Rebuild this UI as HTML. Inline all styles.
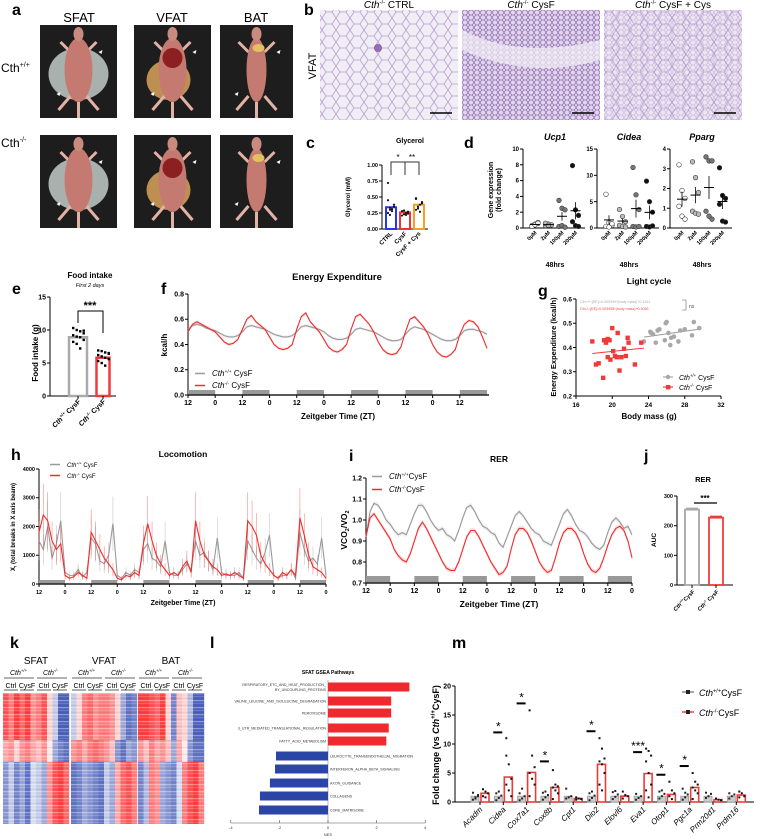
<!DOCTYPE html>
<html><head><meta charset="utf-8">
<style>
body{margin:0;background:#fff}
svg{display:block;font-family:"Liberation Sans",Arial,sans-serif}
.pl{font-size:16px;font-weight:bold}
.b{font-weight:bold}
</style></head>
<body>
<svg id="fig" xmlns="http://www.w3.org/2000/svg" width="758" height="839" viewBox="0 0 758 839">
<defs>
<pattern id="cells" width="14" height="12" patternUnits="userSpaceOnUse"><path d="M0 6 L4 0 L10 0 L14 6 L10 12 L4 12 Z" fill="none" stroke="#b6a0d0" stroke-width="0.8"/></pattern>
<pattern id="cellsDense" width="6" height="5" patternUnits="userSpaceOnUse"><path d="M0 2.5 L1.7 0 L4.3 0 L6 2.5 L4.3 5 L1.7 5 Z" fill="none" stroke="#8e6cb2" stroke-width="0.7"/></pattern>
<pattern id="stripes" width="6" height="7" patternUnits="userSpaceOnUse"><rect x="0" y="0" width="6" height="1.2" fill="#fff" opacity="0.35"/><rect x="0" y="3" width="6" height="0.8" fill="#fff" opacity="0.2"/><rect x="0" y="5" width="6" height="1" fill="#000" opacity="0.06"/></pattern>
</defs>

<text class="pl" x="12" y="15">a</text>
<text class="pl" x="304" y="15">b</text>
<text class="pl" x="306" y="148">c</text>
<text class="pl" x="464" y="148">d</text>
<text class="pl" x="12" y="294">e</text>
<text class="pl" x="161" y="294">f</text>
<text class="pl" x="538" y="296">g</text>
<text class="pl" x="11" y="460">h</text>
<text class="pl" x="349" y="461">i</text>
<text class="pl" x="644" y="461">j</text>
<text class="pl" x="10" y="648">k</text>
<text class="pl" x="210" y="648">l</text>
<text class="pl" x="452" y="648">m</text>

<text x="79" y="22" font-size="13" text-anchor="middle">SFAT</text>
<text x="172" y="22" font-size="13" text-anchor="middle">VFAT</text>
<text x="256" y="22" font-size="13" text-anchor="middle">BAT</text>
<text x="1" y="72" font-size="12">Cth<tspan font-size="7" dy="-5">+/+</tspan></text>
<text x="1" y="147" font-size="12">Cth<tspan font-size="7" dy="-5">-/-</tspan></text>
<g id="photos"></g>

<text x="316" y="66" font-size="11" text-anchor="middle" transform="rotate(-90 316 66)">VFAT</text>
<text x="389" y="8" font-size="10" text-anchor="middle"><tspan font-style="italic">Cth</tspan><tspan font-size="6" dy="-4">-/-</tspan><tspan dy="4"> CTRL</tspan></text>
<text x="531" y="8" font-size="10" text-anchor="middle"><tspan font-style="italic">Cth</tspan><tspan font-size="6" dy="-4">-/-</tspan><tspan dy="4"> CysF</tspan></text>
<text x="673" y="8" font-size="10" text-anchor="middle"><tspan font-style="italic">Cth</tspan><tspan font-size="6" dy="-4">-/-</tspan><tspan dy="4"> CysF + Cys</tspan></text>
<g><rect x="320" y="10" width="138" height="110" fill="#f1edf5"/><rect x="320" y="10" width="138" height="110" fill="url(#cells)"/><circle cx="378" cy="48" r="4" fill="#7a4fa0" opacity="0.8"/><line x1="430" y1="113" x2="452" y2="113" stroke="#000" stroke-width="1.5"/></g>
<g><rect x="462" y="10" width="138" height="110" fill="#e2d6ec"/><rect x="462" y="10" width="138" height="110" fill="url(#cellsDense)"/><path d="M462 30 Q520 60 600 40 L600 60 Q530 80 462 50Z" fill="#f4f0f7" opacity="0.7"/><line x1="572" y1="113" x2="594" y2="113" stroke="#000" stroke-width="1.5"/></g>
<g><rect x="604" y="10" width="138" height="110" fill="#ece5f2"/><rect x="604" y="10" width="138" height="110" fill="url(#cells)" opacity="0.9"/><rect x="604" y="10" width="138" height="110" fill="url(#cellsDense)" opacity="0.35"/><line x1="714" y1="113" x2="736" y2="113" stroke="#000" stroke-width="1.5"/></g>

<text x="410" y="143" font-size="7" class="b" text-anchor="middle">Glycerol</text>
<text x="350" y="197" font-size="6" class="b" text-anchor="middle" transform="rotate(-90 350 197)">Glycerol (mM)</text>
<text x="493" y="190" font-size="7" class="b" text-anchor="middle" transform="rotate(-90 493 190)">Gene expression</text>
<text x="501" y="190" font-size="7" class="b" text-anchor="middle" transform="rotate(-90 501 190)">(fold change)</text>
<text x="90" y="278" font-size="8" class="b" text-anchor="middle">Food intake</text>
<text x="90" y="287" font-size="5.5" font-style="italic" text-anchor="middle">First 2 days</text>
<text x="38" y="353" font-size="8" class="b" text-anchor="middle" transform="rotate(-90 38 353)">Food intake (g)</text>
<text x="337" y="280" font-size="9.5" class="b" text-anchor="middle">Energy Expenditure</text>
<text x="167" y="345" font-size="8" class="b" text-anchor="middle" transform="rotate(-90 167 345)">kcal/h</text>
<text x="338" y="419" font-size="8" class="b" text-anchor="middle">Zeitgeber Time  (ZT)</text>
<text x="649" y="284" font-size="8.5" class="b" text-anchor="middle">Light cycle</text>
<text x="556" y="347" font-size="7.5" class="b" text-anchor="middle" transform="rotate(-90 556 347)">Energy Expenditure (kcal/h)</text>
<text x="649" y="419" font-size="8" class="b" text-anchor="middle">Body mass (g)</text>
<text x="580" y="303" font-size="3.6" fill="#aaa">Cth+/+;{EE}=0.005399*(body mass)+0.3161</text>
<text x="580" y="310" font-size="3.6" fill="#f04848">Cth-/-;{EE}=0.003958*(body mass)+0.3046</text>
<path d="M682 300 H686 V310 H682" fill="none" stroke="#666" stroke-width="0.6"/>
<text x="689" y="308" font-size="5" fill="#555">ns</text>
<text x="183" y="457" font-size="8.5" class="b" text-anchor="middle">Locomotion</text>
<text x="15" y="527" font-size="6" class="b" text-anchor="middle" transform="rotate(-90 15 527)">X<tspan font-size="4" dy="1.5">t</tspan><tspan dy="-1.5"> (total breaks in X axis beam)</tspan></text>
<text x="183" y="605" font-size="7" class="b" text-anchor="middle">Zeitgeber Time (ZT)</text>
<text x="499" y="462" font-size="8.5" class="b" text-anchor="middle">RER</text>
<text x="347" y="530" font-size="8.5" class="b" text-anchor="middle" transform="rotate(-90 347 530)">VCO<tspan font-size="5.5" dy="2">2</tspan><tspan dy="-2">/VO</tspan><tspan font-size="5.5" dy="2">2</tspan></text>
<text x="499" y="607" font-size="8.5" class="b" text-anchor="middle">Zeitgeber  Time  (ZT)</text>
<text x="703" y="482" font-size="7.5" class="b" text-anchor="middle">RER</text>
<text x="656" y="540" font-size="6.5" class="b" text-anchor="middle" transform="rotate(-90 656 540)">AUC</text>
<text x="328" y="674" font-size="5" class="b" text-anchor="middle">SFAT GSEA Pathways</text>
<text x="328" y="836" font-size="4" fill="#333" text-anchor="middle">NES</text>
<text x="439" y="745" font-size="9" class="b" text-anchor="middle" transform="rotate(-90 439 745)">Fold change (vs <tspan font-style="italic">Cth</tspan><tspan font-size="6" dy="-4">+/+</tspan><tspan dy="4">CysF)</tspan></text>

<g id="charts"></g>
</svg>

<script>
// ---------------- DATA ----------------
const cCats = ['CTRL', 'CysF', 'CysF + Cys'];
const cMeans = [0.34, 0.26, 0.38];
const cPoints = [[0.25,0.30,0.28,0.35,0.45,0.33,0.31,0.38,0.72,0.22],[0.21,0.23,0.25,0.27,0.28,0.29,0.22,0.24],[0.30,0.32,0.38,0.42,0.47,0.35,0.27,0.40,0.48]];
const cTicks = [0, 0.25, 0.5, 0.75, 1.0];
const dDoses = ['0μM', '2μM', '100μM', '200μM'];
const dUcp1 = [[0.3,0.5,0.7,0.2,0.4,0.6],[0.3,0.5,0.4,0.6,0.35],[3.5,2.5,2.3,0.2,0.3,0.1],[7.9,2.3,1.6,0.8,0.3,0.2]];
const dCidea = [[6.4,1.0,0.5,0.3,0.2,0.8],[3.5,2.2,1.2,0.5,0.3,0.2],[11.5,6.3,3.5,0.3,0.2,0.3],[8.9,5.0,3.0,0.3,0.2,0.4]];
const dPparg = [[3.2,1.9,1.5,1.1,0.6,0.45],[3.35,2.55,1.8,0.85,0.75,0.7],[3.6,3.4,3.4,0.85,0.6,0.45],[3.05,1.65,1.5,1.2,0.35,0.3]];
const dUcp1Ticks = [0,2,4,6,8,10];
const dCideaTicks = [0,5,10,15];
const dPpargTicks = [0,1,2,3,4];
const eCats = ['Cth+/+ CysF', 'Cth-/- CysF'];
const eMeans = [8.9, 5.8];
const ePoints = [[10.3,10.0,9.8,9.5,9.2,9.0,8.9,8.5,8.2,7.9,7.2,9.9],[6.9,6.8,6.6,6.4,6.2,6.0,5.8,5.6,5.3,5.0,4.6,6.5]];
const eTicks = [0,5,10,15];
const fRed = [.50,.56,.58,.56,.54,.52,.50,.46,.42,.40,.41,.44,.52,.60,.63,.58,.55,.52,.46,.40,.37,.36,.37,.40,.52,.62,.65,.58,.54,.50,.44,.38,.35,.34,.36,.40,.52,.62,.64,.60,.56,.50,.42,.36,.33,.32,.33,.38,.50,.60,.62,.58,.54,.48,.40,.34,.31,.30,.32,.36,.48,.56,.59,.58,.54,.46,.37];
const fGray = [.52,.55,.56,.55,.53,.52,.51,.49,.47,.46,.46,.47,.50,.54,.55,.54,.53,.52,.50,.48,.47,.46,.46,.47,.50,.54,.55,.54,.53,.52,.50,.47,.45,.44,.44,.45,.48,.52,.53,.52,.51,.50,.48,.46,.44,.43,.43,.44,.48,.52,.54,.53,.52,.50,.48,.46,.44,.43,.43,.44,.47,.51,.52,.52,.51,.50,.48];
const fTicks = [0, 0.2, 0.4, 0.6, 0.8];
const fZT = ['12','0','12','0','12','0','12','0','12','0','12'];
const gWtMass = [23.5,24.2,24.5,24.8,25.0,25.2,25.8,25.9,26.0,26.2,26.4,26.5,26.8,27.3,27.5,28.0,28.8,29.0,29.6,24.3];
const gWtEE = [.425,.465,.455,.42,.47,.475,.43,.50,.505,.46,.41,.44,.445,.425,.47,.475,.45,.505,.48,.46];
const gKoMass = [17.8,18.2,18.5,19.0,19.1,19.3,19.5,19.7,19.5,19.8,20.0,20.1,20.3,20.5,20.8,20.6,21.0,21.3,21.5,21.7,21.8,22.5,23.2];
const gKoEE = [.425,.33,.335,.275,.43,.42,.435,.43,.36,.35,.48,.385,.365,.36,.305,.46,.36,.395,.365,.44,.42,.33,.42];
const gWtFit = [0.005399, 0.3161];
const gKoFit = [0.003958, 0.3046];
const gXTicks = [16,20,24,28,32];
const gYTicks = [0.2,0.3,0.4,0.5,0.6];
const hRed = [1800,2400,2200,1500,1200,1400,300,200,250,400,300,200,1800,1500,1200,900,700,500,200,150,300,250,400,300,1400,2100,1500,1000,700,500,300,400,300,600,800,400,2200,1500,1000,800,600,500,300,350,300,400,300,200,2200,2000,1700,1000,700,500,300,200,400,300,500,300,2300,1700,1000,600,500,400,200];
const hGray = [1500,1200,2000,900,1400,2200,400,300,300,500,250,400,1600,1400,800,700,1000,2100,300,200,400,300,500,400,1200,1400,900,800,600,1500,400,300,300,500,700,500,1500,1000,1100,800,500,1600,400,300,300,300,400,200,1500,1200,900,700,1100,1700,300,200,300,300,500,200,1800,1200,800,900,700,1600,300];
const hTicks = [0,1000,2000,3000,4000];
const hZT = ['12','0','12','0','12','0','12','0','12','0','12','0'];
const iRed = [.92,1.01,1.03,1.00,.97,.94,.91,.86,.83,.81,.80,.84,.90,.96,.99,.96,.92,.88,.84,.80,.77,.76,.76,.80,.86,.92,.95,.95,.92,.88,.84,.80,.77,.74,.75,.78,.86,.93,.96,.96,.94,.90,.85,.80,.77,.75,.76,.82,.89,.94,.96,.96,.94,.90,.84,.79,.76,.75,.77,.82,.88,.93,.96,.97,.95,.90,.82];
const iGray = [.92,1.04,1.08,1.07,1.04,1.00,.98,.95,.93,.94,.93,.98,1.03,1.07,1.07,1.04,1.00,.97,.95,.96,.93,.92,.90,.95,1.01,1.06,1.07,1.04,1.00,.97,.96,.94,.93,.89,.87,.92,.97,1.02,1.04,1.02,.99,.96,.94,.93,.90,.89,.88,.93,.98,1.03,1.05,1.02,.98,.95,.94,.92,.89,.87,.86,.88,.94,.99,1.01,.99,.96,.97,.93];
const iTicks = [0.7,0.8,0.9,1.0,1.1,1.2];
const iZT = ['12','0','12','0','12','0','12','0','12','0','12','0'];
const jCats = ['Cth+/+CysF', 'Cth-/- CysF'];
const jMeans = [254, 227];
const jTicks = [0,100,200,300];
const kTissues = ['SFAT','VFAT','BAT'];
const kTop = [[.8,.6,.9,.7,.9,.5,.6,.8,.2,-.3,-.9,-.9],[-.3,.2,.6,.7,.5,.6,.6,.5,.2,-.5,-.8,-.7],[.9,.9,.8,.7,.9,.2,-.7,.3,.2,-.4,-.9,-.9]];
const kMid = [[.4,.5,.2,.5,.6,.4,.3,.5,.1,-.5,-.7,-.8],[.5,.6,.4,.6,.7,.6,.5,.3,-.6,-.8,-.5,-.6],[.5,.3,.6,.4,.5,.3,-.5,.4,.1,-.6,-.8,-.8]];
const kBot = [[-.6,-.3,-.7,-.5,-.8,-.2,-.3,-.5,.5,.8,.9,.7],[-.8,-.7,-.5,-.6,-.7,-.8,-.3,-.5,.4,.7,.8,.6],[-.7,-.4,.6,.5,-.5,-.6,-.7,-.2,.6,.8,.9,.6]];
const lPathways = ['RESPIRATORY_ETC_AND_HEAT_PRODUCTION_|BY_UNCOUPLING_PROTEINS','VALINE_LEUCINE_AND_ISOLEUCINE_DEGRADATION','PEROXISOME','3_UTR_MEDIATED_TRANSLATIONAL_REGULATION','FATTY_ACID_METABOLISM','LEUKOCYTE_TRANSENDOTHELIAL_MIGRATION','INTERFERON_ALPHA_BETA_SIGNALING','AXON_GUIDANCE','COLLAGENS','CORE_MATRISOME'];
const lNES = [3.35,2.6,2.6,2.5,2.4,-2.14,-2.18,-2.39,-2.8,-2.84];
const lTicks = [-4,-2,0,2,4];
const mGenes = ['Acadm','Cidea','Cox7a1','Cox8b','Cpt1','Dio2','Elovl6','Eva1','Otop1','Pgc1a','Prm20d1','Prdm16'];
const mGrayMeans = [1,1,1,1,1,1,1,1,1,1,1,1];
const mRedMeans = [1.5,4.3,5.1,2.5,0.6,6.5,1.0,4.9,1.3,2.5,0.4,1.2];
const mGrayPts = [[0.4,0.8,1.2,1.6,0.6,1.0],[0.3,0.7,1.1,1.5,1.8],[0.3,0.6,1.0,1.5,2.3],[0.4,0.8,1.2,1.6,1.8],[0.6,0.8,1.0,2.3],[0.3,0.7,1.1,1.5,1.8],[0.5,0.9,1.3,1.7,1.9],[0.4,0.7,1.0,1.4],[0.6,1.0,1.4,1.8,2.0],[0.4,0.8,1.3,2.3,1.6],[0.7,1.0,1.4,1.6],[0.6,1.0,1.3,1.5]];
const mRedPts = [[2.2,1.8,1.5,1.0,0.8],[11,6.5,4,3,2,1,8],[15.8,8,6,5,4,3,1],[5.5,3,2.7,2.5,2,1.5,0.5],[0.8,0.6,0.5,0.4],[11,9.2,7.5,7,6.5,5,3,2],[1.8,1.2,1.0,0.6],[9.2,8.8,8,7,5,3,2,0.8],[3.5,2,1.5,1,0.5],[5,3.5,3,2.5,2,1.5,0.5],[0.6,0.4,0.3],[1.8,1.5,1.0,0.8]];
const mSig = [null,12,17,7,null,12.2,null,8.6,4.7,6.2,null,null];
const mStars = ['','*','*','*','','*','','***','*','*','',''];
const mTicks = [0,5,10,15,20];

// ---------------- HELPERS ----------------
const NS = 'http://www.w3.org/2000/svg';
const svg = document.getElementById('fig');
function mk(tag, a, parent) {
  const e = document.createElementNS(NS, tag);
  for (const k in a) e.setAttribute(k, a[k]);
  (parent || svg).appendChild(e);
  return e;
}
function nm(e, name) {
  
  
  return e;
}
function txt(x, y, s, a, parent) {
  const e = mk('text', Object.assign({x: x, y: y}, a || {}), parent);
  e.textContent = s;
  return e;
}
function grp(name) { return nm(mk('g', {}), name); }
function lin(d0, d1, r0, r1) { return v => r0 + (v - d0) * (r1 - r0) / (d1 - d0); }
function yAxis(g, x, y, ticks, fmt, fs, name) {
  nm(mk('line', {x1: x, x2: x, y1: y(ticks[0]), y2: y(ticks[ticks.length-1]), stroke: '#000', 'stroke-width': 1}, g), name + '-line');
  ticks.forEach(t => {
    nm(mk('line', {x1: x-3, x2: x, y1: y(t), y2: y(t), stroke: '#000', 'stroke-width': 1}, g), name + '-tick');
    nm(txt(x-4, y(t)+fs*0.35, fmt(t), {'font-size': fs, 'font-weight': 'bold', 'text-anchor': 'end'}, g), name + '-tick-label');
  });
}
function cthLabel(g, x, y, sup, rest, fs, attrs, name) {
  const t = mk('text', Object.assign({x: x, y: y, 'font-size': fs}, attrs || {}), g);
  nm(t, name);
  const a = mk('tspan', {'font-style': 'italic'}, t); a.textContent = 'Cth';
  const b = mk('tspan', {'font-size': fs*0.62, dy: -fs*0.4}, t); b.textContent = sup;
  const c = mk('tspan', {dy: fs*0.4}, t); c.textContent = rest;
  return t;
}

// ---------------- PANEL A photos ----------------
(function(){
  const g = document.getElementById('photos');
  const cols = [[40,77],[134,77],[220,73]];
  const rows = [25,135];
  rows.forEach((ry, ri) => cols.forEach((c, ci) => {
    const cx = c[0] + c[1]/2, cy = ry + 47;
    nm(mk('rect', {x: c[0], y: ry, width: c[1], height: 93, fill: '#1d1d1d'}, g), 'photo-background');
    if (ci === 0) nm(mk('ellipse', {cx: cx, cy: cy+2, rx: 30, ry: 26, fill: '#b9c2c0', opacity: 0.9}, g), 'skin-flap');
    if (ci === 1) nm(mk('ellipse', {cx: cx-4, cy: cy+8, rx: 22, ry: 20, fill: '#d9a45a', opacity: 0.85}, g), 'visceral-fat');
    nm(mk('path', {d: `M${cx-18} ${cy-30} L${cx-8} ${cy-20} M${cx+18} ${cy-30} L${cx+8} ${cy-20} M${cx-20} ${cy+38} L${cx-8} ${cy+24} M${cx+20} ${cy+38} L${cx+8} ${cy+24} M${cx} ${cy+30} L${cx} ${cy+46}`, stroke: '#e2b2a4', 'stroke-width': 3, fill: 'none'}, g), 'mouse-limbs');
    nm(mk('ellipse', {cx: cx, cy: cy-2, rx: ci === 2 ? 10 : 14, ry: 32, fill: '#c47a70'}, g), 'mouse-body');
    nm(mk('ellipse', {cx: cx, cy: ry+9, rx: 5, ry: 7, fill: '#c98a80'}, g), 'mouse-head');
    if (ci === 1) nm(mk('ellipse', {cx: cx, cy: cy-14, rx: 10, ry: 10, fill: '#8b1f22'}, g), 'organs');
    if (ci === 2) nm(mk('ellipse', {cx: cx+2, cy: cy-24, rx: 6, ry: 4, fill: '#e3c060'}, g), 'brown-fat');
    nm(mk('path', {d: `M${cx+20} ${cy-20} l4 -2 l-1 4z M${cx-22} ${cy+22} l4 -2 l-1 4z`, fill: '#fff'}, g), 'arrowheads');
  }));
})();

// ---------------- PANEL C ----------------
(function(){
  const g = grp('glycerol-chart');
  const y = lin(0, 1, 229, 165);
  yAxis(g, 382, y, cTicks, t => t.toFixed(2), 5.5, 'c-y-axis');
  nm(mk('line', {x1: 382, x2: 428, y1: 229, y2: 229, stroke: '#000'}, g), 'c-x-axis');
  const colors = ['#2a35f0', '#f0303a', '#f5a023'];
  const xs = cCats.map((_, i) => 391 + i * 14);
  cMeans.forEach((m, i) => {
    nm(mk('rect', {x: xs[i]-5, y: y(m), width: 10, height: 229 - y(m), fill: '#fff', stroke: colors[i], 'stroke-width': 2}, g), 'c-bar-' + i);
    cPoints[i].forEach((p, j) => nm(mk('circle', {cx: xs[i] - 3 + (j % 4) * 2, cy: y(p), r: 1.1, fill: '#111'}, g), 'c-point'));
    nm(txt(xs[i]+2, 234, cCats[i], {'font-size': 6, 'font-weight': 'bold', 'text-anchor': 'end', transform: `rotate(-45 ${xs[i]+2} 234)`}, g), 'c-x-label');
  });
  nm(mk('path', {d: `M${xs[0]} 175 V162 H${xs[1]} V175`, fill: 'none', stroke: '#333', 'stroke-width': 1}, g), 'c-sig-bracket-1');
  nm(mk('path', {d: `M${xs[1]} 162 H${xs[2]} V175`, fill: 'none', stroke: '#333', 'stroke-width': 1}, g), 'c-sig-bracket-2');
  nm(txt((xs[0]+xs[1])/2, 160, '*', {'font-size': 8, 'text-anchor': 'middle'}, g), 'c-sig-star-1');
  nm(txt((xs[1]+xs[2])/2, 160, '**', {'font-size': 8, 'text-anchor': 'middle'}, g), 'c-sig-star-2');
})();

// ---------------- PANEL D ----------------
function dPlot(ax, title, yMax, ticks, data, name) {
  const g = grp(name);
  const y = lin(0, yMax, 228, 149);
  yAxis(g, ax, y, ticks, t => String(t), 6, name + '-y-axis');
  nm(mk('line', {x1: ax, x2: ax + 62, y1: 228, y2: 228, stroke: '#000'}, g), name + '-x-axis');
  nm(txt(ax + 32, 140, title, {'font-size': 9, 'font-weight': 'bold', 'font-style': 'italic', 'text-anchor': 'middle'}, g), name + '-title');
  const fills = ['#fff', '#bbb', '#777', '#111'];
  data.forEach((pts, i) => {
    const cx = ax + 12 + i * 13.5;
    const mean = pts.reduce((a, b) => a + b, 0) / pts.length;
    const sd = Math.sqrt(pts.reduce((a, b) => a + (b - mean) * (b - mean), 0) / pts.length) / Math.sqrt(pts.length);
    pts.forEach((p, j) => nm(mk('circle', {cx: cx - 3 + (j % 3) * 3, cy: y(p), r: 2.3, fill: fills[i], stroke: '#333', 'stroke-width': 0.6}, g), name + '-point'));
    nm(mk('line', {x1: cx - 5, x2: cx + 5, y1: y(mean), y2: y(mean), stroke: '#000', 'stroke-width': 1}, g), name + '-mean');
    nm(mk('line', {x1: cx, x2: cx, y1: y(mean - sd), y2: y(mean + sd), stroke: '#000', 'stroke-width': 0.8}, g), name + '-sem');
    nm(txt(cx + 2, 233, dDoses[i], {'font-size': 5.5, 'font-weight': 'bold', 'text-anchor': 'end', transform: `rotate(-45 ${cx+2} 233)`}, g), name + '-x-label');
  });
  nm(txt(ax + 32, 267, '48hrs', {'font-size': 7, 'font-weight': 'bold', 'text-anchor': 'middle'}, g), name + '-time');
}
dPlot(523, 'Ucp1', 10, dUcp1Ticks, dUcp1, 'ucp1-chart');
dPlot(597, 'Cidea', 15, dCideaTicks, dCidea, 'cidea-chart');
dPlot(670, 'Pparg', 4, dPpargTicks, dPparg, 'pparg-chart');

// ---------------- PANEL E ----------------
(function(){
  const g = grp('food-intake-chart');
  const y = lin(0, 15, 396, 297);
  yAxis(g, 50, y, eTicks, t => String(t), 7, 'e-y-axis');
  nm(mk('line', {x1: 50, x2: 116, y1: 396, y2: 396, stroke: '#000'}, g), 'e-x-axis');
  const xs = [78, 103], cols = ['#aaa', '#f03a3a'], ws = [18, 13];
  eMeans.forEach((m, i) => {
    nm(mk('rect', {x: xs[i] - ws[i]/2, y: y(m), width: ws[i], height: 396 - y(m), fill: '#fff', stroke: cols[i], 'stroke-width': 2.5}, g), 'e-bar-' + i);
    ePoints[i].forEach((p, j) => nm(mk('rect', {x: xs[i] - 6 + (j % 4) * 3.5, y: y(p) - 1.2, width: 2.4, height: 2.4, fill: '#000'}, g), 'e-point'));
    nm(mk('line', {x1: xs[i], x2: xs[i], y1: 396, y2: 399, stroke: '#000'}, g), 'e-x-tick');
    cthLabel(g, xs[i] + 3, 402, i === 0 ? '+/+' : '-/-', ' CysF', 7, {'font-weight': 'bold', 'text-anchor': 'end', transform: `rotate(-45 ${xs[i]+3} 402)`}, 'e-x-label');
  });
  nm(mk('path', {d: `M${xs[0]} 323 V311 H${xs[1]} V333`, fill: 'none', stroke: '#000', 'stroke-width': 1}, g), 'e-sig-bracket');
  nm(txt(90, 309, '***', {'font-size': 11, 'font-weight': 'bold', 'text-anchor': 'middle'}, g), 'e-sig-stars');
})();

// ---------------- time series helper ----------------
function tsChart(o) {
  const g = grp(o.name);
  const x = lin(0, 132, o.x0, o.x1);
  const y = lin(o.yd[0], o.yd[1], o.yr[0], o.yr[1]);
  yAxis(g, o.x0, y, o.ticks, o.fmt, o.fs, o.name + '-y-axis');
  for (let k = 0; k < o.zt.length; k += 2) {
    const t0 = k * 12, t1 = Math.min(132, t0 + 12);
    if (t0 >= 132) break;
    nm(mk('rect', {x: x(t0), y: o.yr[0] - o.barH, width: x(t1) - x(t0), height: o.barH, fill: '#999'}, g), o.name + '-dark-phase');
  }
  nm(mk('line', {x1: o.x0, x2: o.xEnd || o.x1, y1: o.yr[0], y2: o.yr[0], stroke: '#222', 'stroke-width': 1.5}, g), o.name + '-x-axis');
  o.zt.forEach((lab, k) => {
    nm(mk('line', {x1: x(k*12), x2: x(k*12), y1: o.yr[0], y2: o.yr[0]+3, stroke: '#000'}, g), o.name + '-x-tick');
    nm(txt(x(k*12), o.yr[0] + 10, lab, {'font-size': o.fs, 'font-weight': 'bold', 'text-anchor': 'middle'}, g), o.name + '-x-tick-label');
  });
  const series = [[o.gray, '#9a9a9a', 'gray'], [o.red, '#f02c2c', 'red']];
  series.forEach(s => {
    const vals = s[0];
    if (o.err) {
      vals.forEach((v, i) => nm(mk('line', {x1: x(i*2), x2: x(i*2), y1: y(v * 1.45), y2: y(v * 0.55), stroke: s[1], 'stroke-width': 0.6, opacity: 0.55}, g), o.name + '-error-bar'));
    } else {
      const band = vals.map((v, i) => `${x(i*2)},${y(v + o.band)}`).concat(vals.map((v, i) => `${x(i*2)},${y(v - o.band)}`).reverse());
      nm(mk('polygon', {points: band.join(' '), fill: s[1], opacity: 0.15}, g), o.name + '-band-' + s[2]);
    }
    nm(mk('polyline', {points: vals.map((v, i) => `${x(i*2)},${y(v)}`).join(' '), fill: 'none', stroke: s[1], 'stroke-width': 1.1}, g), o.name + '-line-' + s[2]);
  });
  o.leg.forEach((L, i) => {
    nm(mk('line', {x1: L[0], x2: L[0] + 10, y1: L[1] - 2.5, y2: L[1] - 2.5, stroke: i ? '#f02c2c' : '#9a9a9a', 'stroke-width': 1.5}, g), o.name + '-legend-swatch');
    cthLabel(g, L[0] + 17, L[1], i ? '-/-' : '+/+', o.legSep + 'CysF', o.legFs, {}, o.name + '-legend-entry');
  });
}
tsChart({name: 'energy-expenditure-chart', x0: 188, x1: 487, yd: [0, 0.8], yr: [395, 294], ticks: fTicks, fmt: t => t.toFixed(1), fs: 7, zt: fZT, barH: 5, gray: fGray, red: fRed, band: 0.012, leg: [[195, 376], [195, 388]], legSep: ' ', legFs: 8, xEnd: 489});
tsChart({name: 'locomotion-chart', x0: 39, x1: 326, yd: [0, 4000], yr: [584, 469], ticks: hTicks, fmt: t => String(t), fs: 5.5, zt: hZT, barH: 4, gray: hGray, red: hRed, err: true, leg: [[50, 467], [50, 478]], legSep: ' ', legFs: 6});
tsChart({name: 'rer-chart', x0: 366, x1: 632, yd: [0.7, 1.2], yr: [583, 478], ticks: iTicks, fmt: t => t.toFixed(1), fs: 7, zt: iZT, barH: 7, gray: iGray, red: iRed, band: 0.012, leg: [[372, 479], [372, 492]], legSep: '', legFs: 8});

// ---------------- PANEL G ----------------
(function(){
  const g = grp('ee-vs-bodymass-chart');
  const x = lin(16, 32, 576, 721), y = lin(0.2, 0.6, 396, 299);
  yAxis(g, 576, y, gYTicks, t => t.toFixed(1), 6.5, 'g-y-axis');
  nm(mk('line', {x1: 576, x2: 721, y1: 396, y2: 396, stroke: '#000'}, g), 'g-x-axis');
  gXTicks.forEach(t => {
    nm(mk('line', {x1: x(t), x2: x(t), y1: 396, y2: 399, stroke: '#000'}, g), 'g-x-tick');
    nm(txt(x(t), 407, String(t), {'font-size': 6.5, 'font-weight': 'bold', 'text-anchor': 'middle'}, g), 'g-x-tick-label');
  });
  nm(mk('line', {x1: x(23.5), x2: x(29.7), y1: y(gWtFit[0]*23.5+gWtFit[1]), y2: y(gWtFit[0]*29.7+gWtFit[1]), stroke: '#999', 'stroke-width': 1}, g), 'g-fit-wt');
  nm(mk('line', {x1: x(17.8), x2: x(23.5), y1: y(gKoFit[0]*17.8+gKoFit[1]), y2: y(gKoFit[0]*23.5+gKoFit[1]), stroke: '#f03a3a', 'stroke-width': 1}, g), 'g-fit-ko');
  gWtMass.forEach((m, i) => nm(mk('circle', {cx: x(m), cy: y(gWtEE[i]), r: 2.3, fill: '#a8a8a8'}, g), 'g-point-wt'));
  gKoMass.forEach((m, i) => nm(mk('rect', {x: x(m) - 2.2, y: y(gKoEE[i]) - 2.2, width: 4.4, height: 4.4, fill: '#f03a3a'}, g), 'g-point-ko'));
  nm(mk('line', {x1: 663, x2: 673, y1: 377, y2: 377, stroke: '#a8a8a8', 'stroke-width': 1.2}, g), 'g-legend-line-wt');
  nm(mk('circle', {cx: 668, cy: 377, r: 2.2, fill: '#a8a8a8'}, g), 'g-legend-marker-wt');
  nm(mk('line', {x1: 663, x2: 673, y1: 387, y2: 387, stroke: '#f03a3a', 'stroke-width': 1.2}, g), 'g-legend-line-ko');
  nm(mk('rect', {x: 666, y: 385, width: 4.4, height: 4.4, fill: '#f03a3a'}, g), 'g-legend-marker-ko');
  cthLabel(g, 679, 380, '+/+', ' CysF', 7, {}, 'g-legend-wt');
  cthLabel(g, 679, 390, '-/-', ' CysF', 7, {}, 'g-legend-ko');
})();

// ---------------- PANEL J ----------------
(function(){
  const g = grp('rer-auc-chart');
  const y = lin(0, 300, 585, 496);
  yAxis(g, 677, y, jTicks, t => String(t), 5.5, 'j-y-axis');
  nm(mk('line', {x1: 677, x2: 733, y1: 585, y2: 585, stroke: '#000'}, g), 'j-x-axis');
  const xs = [692, 716], cols = ['#a8a8a8', '#f03a3a'];
  jMeans.forEach((m, i) => {
    nm(mk('rect', {x: xs[i] - 7, y: y(m), width: 14, height: 585 - y(m), fill: '#fff', stroke: cols[i], 'stroke-width': 1.8}, g), 'j-bar-' + i);
    nm(mk('line', {x1: xs[i] - 6, x2: xs[i] + 6, y1: y(m) - 1, y2: y(m) - 1, stroke: cols[i], 'stroke-width': 2}, g), 'j-error-cap');
    nm(mk('line', {x1: xs[i], x2: xs[i], y1: 585, y2: 588, stroke: '#000'}, g), 'j-x-tick');
    cthLabel(g, xs[i] + 3, 592, i ? '-/-' : '+/+', i ? ' CysF' : 'CysF', 5.5, {'font-weight': 'bold', 'text-anchor': 'end', transform: `rotate(-45 ${xs[i]+3} 592)`}, 'j-x-label');
  });
  nm(mk('line', {x1: 694, x2: 717, y1: 503, y2: 503, stroke: '#000', 'stroke-width': 1.2}, g), 'j-sig-line');
  nm(txt(705, 501, '***', {'font-size': 8, 'font-weight': 'bold', 'text-anchor': 'middle'}, g), 'j-sig-stars');
})();

// ---------------- PANEL K heatmap ----------------
(function(){
  const g = grp('heatmap');
  function col(v) {
    const r = v >= 0 ? [255, 255 - 215*v, 255 - 213*v] : [255 + 197*v, 255 + 175*v, 255 + 75*v];
    return `rgb(${r.map(c => Math.round(Math.max(0, Math.min(255, c)))).join(',')})`;
  }
  const x0s = [3, 71, 138], cw = 5.5;
  kTissues.forEach((t, ti) => {
    const x0 = x0s[ti];
    [[kTop, 693, 740], [kMid, 740, 762], [kBot, 762, 824]].forEach(seg => {
      seg[0][ti].forEach((v, ci) => nm(mk('rect', {x: x0 + ci * cw, y: seg[1], width: cw + 0.2, height: seg[2] - seg[1], fill: col(v)}, g), 'heatmap-cell'));
    });
    nm(mk('rect', {x: x0, y: 693, width: 12 * cw, height: 131, fill: 'url(#stripes)'}, g), 'heatmap-texture');
    nm(txt(x0 + 33, 664, t, {'font-size': 10, 'text-anchor': 'middle'}, g), 'heatmap-tissue-label');
    [0, 1].forEach(h => {
      cthLabel(g, x0 + 7 + h * 33, 675, h ? '-/-' : '+/+', '', 7, {}, 'heatmap-genotype-label');
      nm(mk('line', {x1: x0 + 1 + h * 33, x2: x0 + 31 + h * 33, y1: 678, y2: 678, stroke: '#333', 'stroke-width': 0.8}, g), 'heatmap-genotype-line');
      ['Ctrl', 'CysF'].forEach((c, k) => {
        nm(txt(x0 + 8 + h * 33 + k * 16, 688, c, {'font-size': 7, 'text-anchor': 'middle'}, g), 'heatmap-condition-label');
        nm(mk('line', {x1: x0 + 1 + h * 33 + k * 16, x2: x0 + 15 + h * 33 + k * 16, y1: 690, y2: 690, stroke: '#333', 'stroke-width': 0.8}, g), 'heatmap-condition-line');
      });
    });
  });
})();

// ---------------- PANEL L ----------------
(function(){
  const g = grp('gsea-chart');
  const x = lin(0, 1, 328, 352.3);
  const yc = [687, 701, 713, 728, 741, 756, 769, 783, 796, 810];
  nm(mk('line', {x1: 328, x2: 328, y1: 680, y2: 823, stroke: '#888', 'stroke-width': 0.6}, g), 'gsea-zero-line');
  lNES.forEach((v, i) => {
    const pos = v > 0;
    nm(mk('rect', {x: Math.min(x(0), x(v)), y: yc[i] - 4.5, width: Math.abs(x(v) - x(0)), height: 9, fill: pos ? '#ee2a2f' : '#2b45a6'}, g), 'gsea-bar');
    const lines = lPathways[i].split('|');
    lines.forEach((s, k) => nm(txt(pos ? 326 : 330, yc[i] + 1.5 + (k - (lines.length - 1) / 2) * 5, s, {'font-size': 3.6, fill: '#333', 'text-anchor': pos ? 'end' : 'start'}, g), 'gsea-pathway-label'));
  });
  nm(mk('line', {x1: x(-4), x2: x(4), y1: 823, y2: 823, stroke: '#555', 'stroke-width': 0.6}, g), 'gsea-x-axis');
  lTicks.forEach(t => {
    nm(mk('line', {x1: x(t), x2: x(t), y1: 820, y2: 823, stroke: '#555', 'stroke-width': 0.6}, g), 'gsea-x-tick');
    nm(txt(x(t), 829, String(t), {'font-size': 4, fill: '#333', 'text-anchor': 'middle'}, g), 'gsea-x-tick-label');
  });
})();

// ---------------- PANEL M ----------------
(function(){
  const g = grp('fold-change-chart');
  const y = lin(0, 20, 802, 686);
  yAxis(g, 455, y, mTicks, t => String(t), 7, 'm-y-axis');
  nm(mk('line', {x1: 455, x2: 754, y1: 802, y2: 802, stroke: '#000', 'stroke-width': 1}, g), 'm-x-axis');
  mGenes.forEach((gn, i) => {
    const c = 480 + i * 23.3;
    nm(mk('rect', {x: c - 9, y: y(mGrayMeans[i]), width: 8, height: 802 - y(mGrayMeans[i]), fill: '#ccc', stroke: '#999', 'stroke-width': 0.8}, g), 'm-bar-wt');
    nm(mk('rect', {x: c + 1, y: y(mRedMeans[i]), width: 8, height: 802 - y(mRedMeans[i]), fill: '#fff', stroke: '#f03a3a', 'stroke-width': 1.6}, g), 'm-bar-ko');
    mGrayPts[i].forEach((p, j) => nm(mk('rect', {x: c - 8 + (j % 3) * 2.5, y: y(p) - 1, width: 2, height: 2, fill: '#222'}, g), 'm-point-wt'));
    mRedPts[i].forEach((p, j) => nm(mk('rect', {x: c + 2 + (j % 3) * 2.5, y: y(p) - 1, width: 2, height: 2, fill: '#111'}, g), 'm-point-ko'));
    nm(mk('line', {x1: c, x2: c, y1: 802, y2: 805, stroke: '#000'}, g), 'm-x-tick');
    nm(txt(c + 3, 810, gn, {'font-size': 8, 'font-style': 'italic', 'text-anchor': 'end', transform: `rotate(-45 ${c+3} 810)`}, g), 'm-gene-label');
    if (mSig[i] !== null) {
      nm(mk('line', {x1: c - 10, x2: c - 1, y1: y(mSig[i]), y2: y(mSig[i]), stroke: '#000', 'stroke-width': 2}, g), 'm-sig-line');
      nm(txt(c - 5, y(mSig[i]) - 2, mStars[i], {'font-size': 12, 'text-anchor': 'middle'}, g), 'm-sig-stars');
    }
  });
  nm(mk('line', {x1: 682, x2: 694, y1: 692, y2: 692, stroke: '#888', 'stroke-width': 1.5}, g), 'm-legend-line-wt');
  nm(mk('rect', {x: 686, y: 690, width: 4, height: 4, fill: '#222'}, g), 'm-legend-marker-wt');
  nm(mk('line', {x1: 682, x2: 694, y1: 712, y2: 712, stroke: '#f03a3a', 'stroke-width': 1.5}, g), 'm-legend-line-ko');
  nm(mk('rect', {x: 686, y: 710, width: 4, height: 4, fill: '#222'}, g), 'm-legend-marker-ko');
  cthLabel(g, 699, 696, '+/+', 'CysF', 9, {}, 'm-legend-wt');
  cthLabel(g, 699, 716, '-/-', 'CysF', 9, {}, 'm-legend-ko');
})();
</script>
</body></html>
